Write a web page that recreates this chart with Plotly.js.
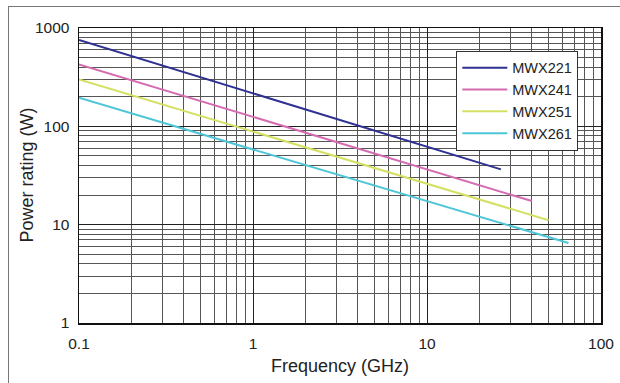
<!DOCTYPE html>
<html>
<head>
<meta charset="utf-8">
<script src="https://cdn.plot.ly/plotly-3.0.1.min.js"></script>
<style>
html,body{margin:0;padding:0;background:#fff;}
#chart{width:620px;height:383px;position:relative;}
#frame{position:absolute;left:8px;top:6px;width:640px;height:400px;border:1px solid #777;pointer-events:none;}
</style>
</head>
<body>
<div id="chart"></div>
<div id="frame"></div>
<script>
// Data (frequency in GHz, power rating in W)
const seriesNames = ["MWX221", "MWX241", "MWX251", "MWX261"];
const freqMWX221 = [0.1, 26.6];
const powerMWX221 = [755, 36.5];
const freqMWX241 = [0.1, 40];
const powerMWX241 = [427, 17.4];
const freqMWX251 = [0.1, 50];
const powerMWX251 = [300, 11.1];
const freqMWX261 = [0.1, 65];
const powerMWX261 = [195, 6.5];
const xTickVals = [0.1, 1, 10, 100];
const xTickText = ["0.1", "1", "10", "100"];
const yTickVals = [1, 10, 100, 1000];
const yTickText = ["1", "10", "100", "1000"];
const xTitle = "Frequency (GHz)";
const yTitle = "Power rating (W)";

const colors = ["#2e3192", "#d46cb2", "#d4e064", "#4ec6d8"];
const xs = [freqMWX221, freqMWX241, freqMWX251, freqMWX261];
const ys = [powerMWX221, powerMWX241, powerMWX251, powerMWX261];

const traces = seriesNames.map((n, i) => ({
  x: xs[i], y: ys[i], name: n, mode: "lines", type: "scatter",
  line: {color: colors[i], width: 2}
}));

function minors(lo, hi) {
  const out = [];
  for (let d = lo; d < hi; d *= 10) for (let k = 2; k <= 9; k++) out.push(+(d * k).toPrecision(3));
  return out;
}

const font = "Arial, 'Liberation Sans', Helvetica, sans-serif";
const layout = {
  width: 620, height: 383,
  margin: {l: 79, r: 19, t: 28, b: 60},
  paper_bgcolor: "#fff", plot_bgcolor: "#fff",
  font: {family: font, color: "#222", size: 16},
  showlegend: true,
  legend: {
    x: 0.9565, xanchor: "right", y: 0.923, yanchor: "top",
    bgcolor: "#fff", bordercolor: "#333", borderwidth: 1,
    font: {family: font, size: 14.5, color: "#222"},
    itemwidth: 45
  },
  xaxis: {
    type: "log", range: [-1, 2],
    tickvals: xTickVals, ticktext: xTickText, ticks: "",
    ticklabelstandoff: 6,
    showgrid: true, gridcolor: "#222", gridwidth: 1,
    minor: {tickvals: minors(0.1, 100), showgrid: true, gridcolor: "#555", gridwidth: 1, ticks: ""},
    showline: true, linecolor: "#111", linewidth: 1.5, mirror: true,
    zeroline: false, tickfont: {size: 15.5},
    title: {text: xTitle, font: {size: 18}, standoff: 8},
    automargin: false
  },
  yaxis: {
    type: "log", range: [0, 3],
    tickvals: yTickVals, ticktext: yTickText, ticks: "",
    ticklabelstandoff: 5,
    showgrid: true, gridcolor: "#222", gridwidth: 1,
    minor: {tickvals: minors(1, 1000), showgrid: true, gridcolor: "#555", gridwidth: 1, ticks: ""},
    showline: true, linecolor: "#111", linewidth: 1.5, mirror: true,
    zeroline: false, tickfont: {size: 15.5},
    automargin: false
  },
  annotations: [{
    text: yTitle, xref: "paper", yref: "paper",
    x: -0.1015, y: 0.5, xanchor: "center", yanchor: "middle",
    textangle: -90, showarrow: false,
    font: {family: font, size: 18, color: "#222"}
  }]
};

Plotly.newPlot("chart", traces, layout, {displayModeBar: false, staticPlot: true});
</script>
</body>
</html>
